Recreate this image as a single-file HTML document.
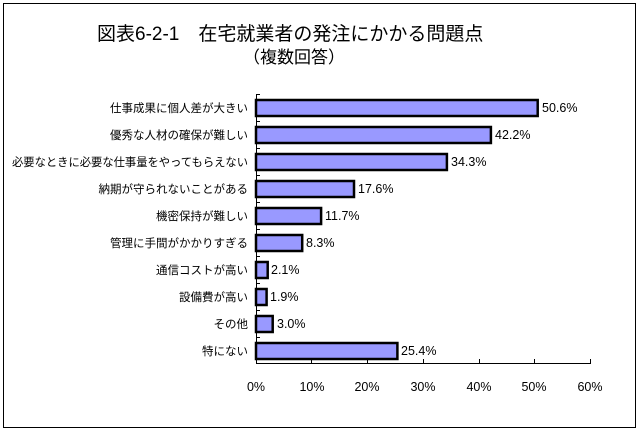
<!DOCTYPE html>
<html><head><meta charset="utf-8"><style>
body{margin:0;background:#fff;}
svg{display:block;font-family:"Liberation Sans","Noto Sans CJK JP",sans-serif;}
</style></head><body>
<svg width="639" height="432" xmlns="http://www.w3.org/2000/svg">
<rect x="3.5" y="3.5" width="632" height="424" fill="#fff" stroke="#000" stroke-width="1"/>
<text x="97" y="40" font-size="19" fill="#000">図表6-2-1　在宅就業者の発注にかかる問題点</text>
<text x="243" y="63" font-size="17" fill="#000">（複数回答）</text>
<g font-size="11.5" fill="#000">
<g text-anchor="end">
<text x="248" y="112">仕事成果に個人差が大きい</text>
<text x="248" y="139">優秀な人材の確保が難しい</text>
<text x="248" y="166" textLength="236" lengthAdjust="spacingAndGlyphs">必要なときに必要な仕事量をやってもらえない</text>
<text x="248" y="193">納期が守られないことがある</text>
<text x="248" y="220">機密保持が難しい</text>
<text x="248" y="247">管理に手間がかかりすぎる</text>
<text x="248" y="274">通信コストが高い</text>
<text x="248" y="301">設備費が高い</text>
<text x="248" y="328">その他</text>
<text x="248" y="355">特にない</text>
</g>
<g fill="#9999ff" stroke="#000" stroke-width="2.5">
<rect x="256" y="100" width="281.7" height="16"/>
<rect x="256" y="127" width="234.9" height="16"/>
<rect x="256" y="154" width="190.9" height="16"/>
<rect x="256" y="181" width="98" height="16"/>
<rect x="256" y="208" width="65.1" height="16"/>
<rect x="256" y="235" width="46.2" height="16"/>
<rect x="256" y="262" width="11.7" height="16"/>
<rect x="256" y="289" width="10.6" height="16"/>
<rect x="256" y="316" width="16.7" height="16"/>
<rect x="256" y="343" width="141.4" height="16"/>
</g>
<g font-size="12.5">
<text x="542" y="112">50.6%</text>
<text x="495" y="139">42.2%</text>
<text x="451" y="166">34.3%</text>
<text x="358" y="193">17.6%</text>
<text x="325" y="220">11.7%</text>
<text x="306" y="247">8.3%</text>
<text x="271" y="274">2.1%</text>
<text x="270" y="301">1.9%</text>
<text x="277" y="328">3.0%</text>
<text x="401" y="355">25.4%</text>
</g>
<g stroke="#000" stroke-width="1">
<line x1="256.5" y1="94" x2="256.5" y2="364"/>
<line x1="256" y1="363.5" x2="591" y2="363.5"/>
<path d="M256 94.5h4M256 121.5h4M256 148.5h4M256 175.5h4M256 202.5h4M256 229.5h4M256 256.5h4M256 283.5h4M256 310.5h4M256 337.5h4"/>
<path d="M311.5 359v5M367.5 359v5M423.5 359v5M479.5 359v5M534.5 359v5M590.5 359v5"/>
</g>
<g text-anchor="middle" font-size="12.5">
<text x="256" y="391">0%</text>
<text x="312" y="391">10%</text>
<text x="367" y="391">20%</text>
<text x="423" y="391">30%</text>
<text x="479" y="391">40%</text>
<text x="534" y="391">50%</text>
<text x="590" y="391">60%</text>
</g>
</g>
</svg>
</body></html>
